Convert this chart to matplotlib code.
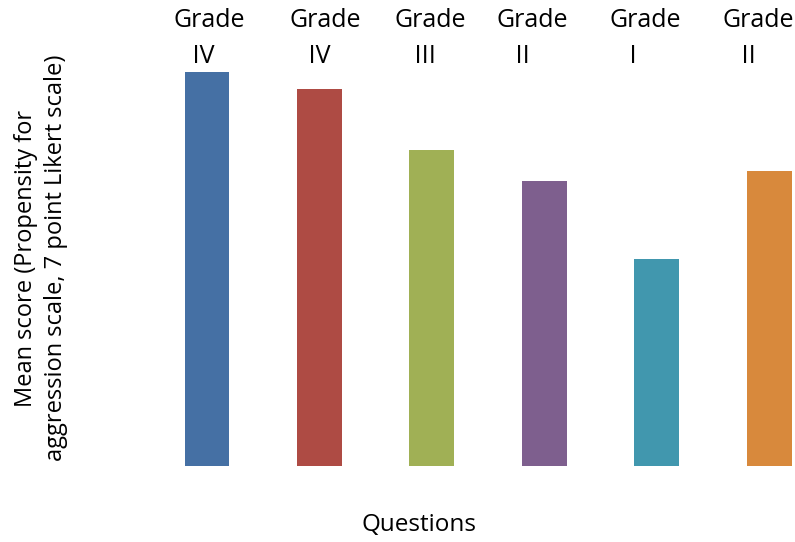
import numpy as np
import matplotlib.pyplot as plt

plt.rcParams['font.family'] = ['Open Sans', 'DejaVu Sans']

# Mean scores per question (7 point Likert scale)
questions = ['Q1', 'Q2', 'Q3', 'Q4', 'Q5', 'Q6']
scores = [5.60, 5.36, 4.49, 4.05, 2.94, 4.19]
grades = ['IV', 'IV', 'III', 'II', 'I', 'II']
colors = ['#4570A4', '#AE4B44', '#A0B055', '#7E5F8E', '#4197AE', '#D8893C']

fig = plt.figure(figsize=(7.95, 5.42), dpi=100)
# axes: bottom at bar base (y=466px), top at figure top
ax = fig.add_axes([150 / 795, (542 - 466) / 542, 645 / 795, 466 / 542])

x = np.arange(len(scores))
ax.bar(x, scores, width=0.40, color=colors)
ax.set_xlim(-0.507, 5.23)
ax.set_ylim(0, 6.62)
ax.axis('off')

# grade labels, hand placed above the bars in the original
offsets = [-34, -30, -37, -48, -47, -47]
for xi, g, off in zip(x, grades, offsets):
    ax.annotate('Grade\n   ' + g, xy=(xi, 0), xycoords=('data', 'figure fraction'),
                xytext=(off, 542 - 8), textcoords=('offset pixels', 'figure pixels'),
                ha='left', va='top', fontsize=18, linespacing=1.6)

fig.text(41 / 795, 1 - 258 / 542,
         'Mean score (Propensity for\naggression scale, 7 point Likert scale)',
         rotation=90, ha='center', va='center', fontsize=17, linespacing=1.3)
fig.text(419 / 795, 1 - 525 / 542, 'Questions', ha='center', va='center', fontsize=17.5)

fig.savefig('out.png', dpi=100)
